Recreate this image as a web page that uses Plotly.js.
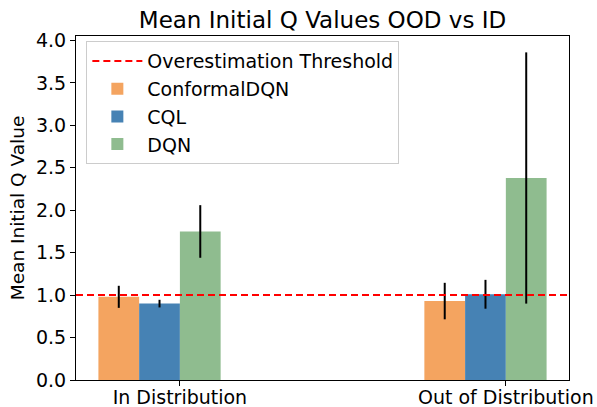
<!DOCTYPE html>
<html>
<head>
<meta charset="utf-8">
<script src="https://cdn.plot.ly/plotly-3.0.1.min.js"></script>
<style>
html, body { margin: 0; padding: 0; background: #fff; }
#chart { width: 597px; height: 407px; }
</style>
</head>
<body>
<div id="chart"></div>
<script>
// ---- data ----
const categories = ["In Distribution", "Out of Distribution"];
const methods = ["ConformalDQN", "CQL", "DQN"];
const conformalMean = [0.98, 0.93];
const conformalErr = [0.13, 0.215];
const cqlMean = [0.90, 1.01];
const cqlErr = [0.045, 0.17];
const dqnMean = [1.75, 2.38];
const dqnErr = [0.31, 1.48];
const threshold = 1.0;
const thresholdName = "Overestimation Threshold";

// ---- styles ----
const colors = ["#F4A460", "#4682B4", "#8FBC8F"];
const barWidth = 0.125;
const offsets = [-2 * barWidth, -barWidth, 0];
const font = "DejaVu Sans, sans-serif";

const xIdx = categories.map((_, i) => i);
const means = [conformalMean, cqlMean, dqnMean];
const errs = [conformalErr, cqlErr, dqnErr];

// axis range like matplotlib 5% margins
const lo = xIdx[0] + offsets[0];
const hi = xIdx[xIdx.length - 1] + offsets[2] + barWidth;
const m = (hi - lo) * 0.05;
const xRange = [lo - m, hi + m];
let ymax = 0;
means.forEach((s, k) => s.forEach((v, i) => { ymax = Math.max(ymax, v + errs[k][i]); }));
const yRange = [0, ymax * 1.05];

const traces = [{
  type: "scatter", mode: "lines", name: thresholdName,
  x: xRange, y: [threshold, threshold],
  line: { color: "red", width: 2, dash: "7px,4px" },
  hoverinfo: "skip"
}];
methods.forEach((name, k) => {
  traces.push({
    type: "bar", name: name,
    x: xIdx, y: means[k],
    width: barWidth, offset: offsets[k],
    marker: { color: colors[k], line: { width: 0 } },
    error_y: { type: "data", array: errs[k], visible: true, color: "black", thickness: 2, width: 0 }
  });
});

const layout = {
  width: 597, height: 407,
  margin: { l: 76, r: 28, t: 36, b: 27 },
  paper_bgcolor: "#fff", plot_bgcolor: "#fff",
  font: { family: font, size: 19, color: "#000" },
  barmode: "overlay",
  showlegend: true,
  title: { text: "Mean Initial Q Values OOD vs ID", font: { family: font, size: 23, color: "#000" },
           x: 0.5, xref: "paper", xanchor: "center", y: 1, yref: "paper", yanchor: "bottom", pad: { b: 8 } },
  xaxis: {
    range: xRange, tickvals: xIdx, ticktext: categories,
    showgrid: false, zeroline: false, showline: true, mirror: true,
    linecolor: "#000", linewidth: 1, ticks: "outside", ticklen: 5, tickwidth: 1, tickcolor: "#000",
    tickfont: { size: 19 }, ticklabelstandoff: -5
  },
  yaxis: {
    range: yRange, dtick: 0.5, tick0: 0, tickformat: ".1f",
    showgrid: false, zeroline: false, showline: true, mirror: true,
    linecolor: "#000", linewidth: 1, ticks: "outside", ticklen: 5, tickwidth: 1, tickcolor: "#000",
    tickfont: { size: 19 },
    title: { text: "Mean Initial Q Value", font: { size: 18.5 }, standoff: 6 }
  },
  legend: {
    x: 0.021, y: 0.985, xanchor: "left", yanchor: "top",
    bgcolor: "rgba(255,255,255,0.8)", bordercolor: "#cccccc", borderwidth: 1,
    font: { size: 19 }, itemwidth: 50, traceorder: "normal"
  }
};

Plotly.newPlot("chart", traces, layout, { displayModeBar: false, staticPlot: true });
</script>
</body>
</html>
